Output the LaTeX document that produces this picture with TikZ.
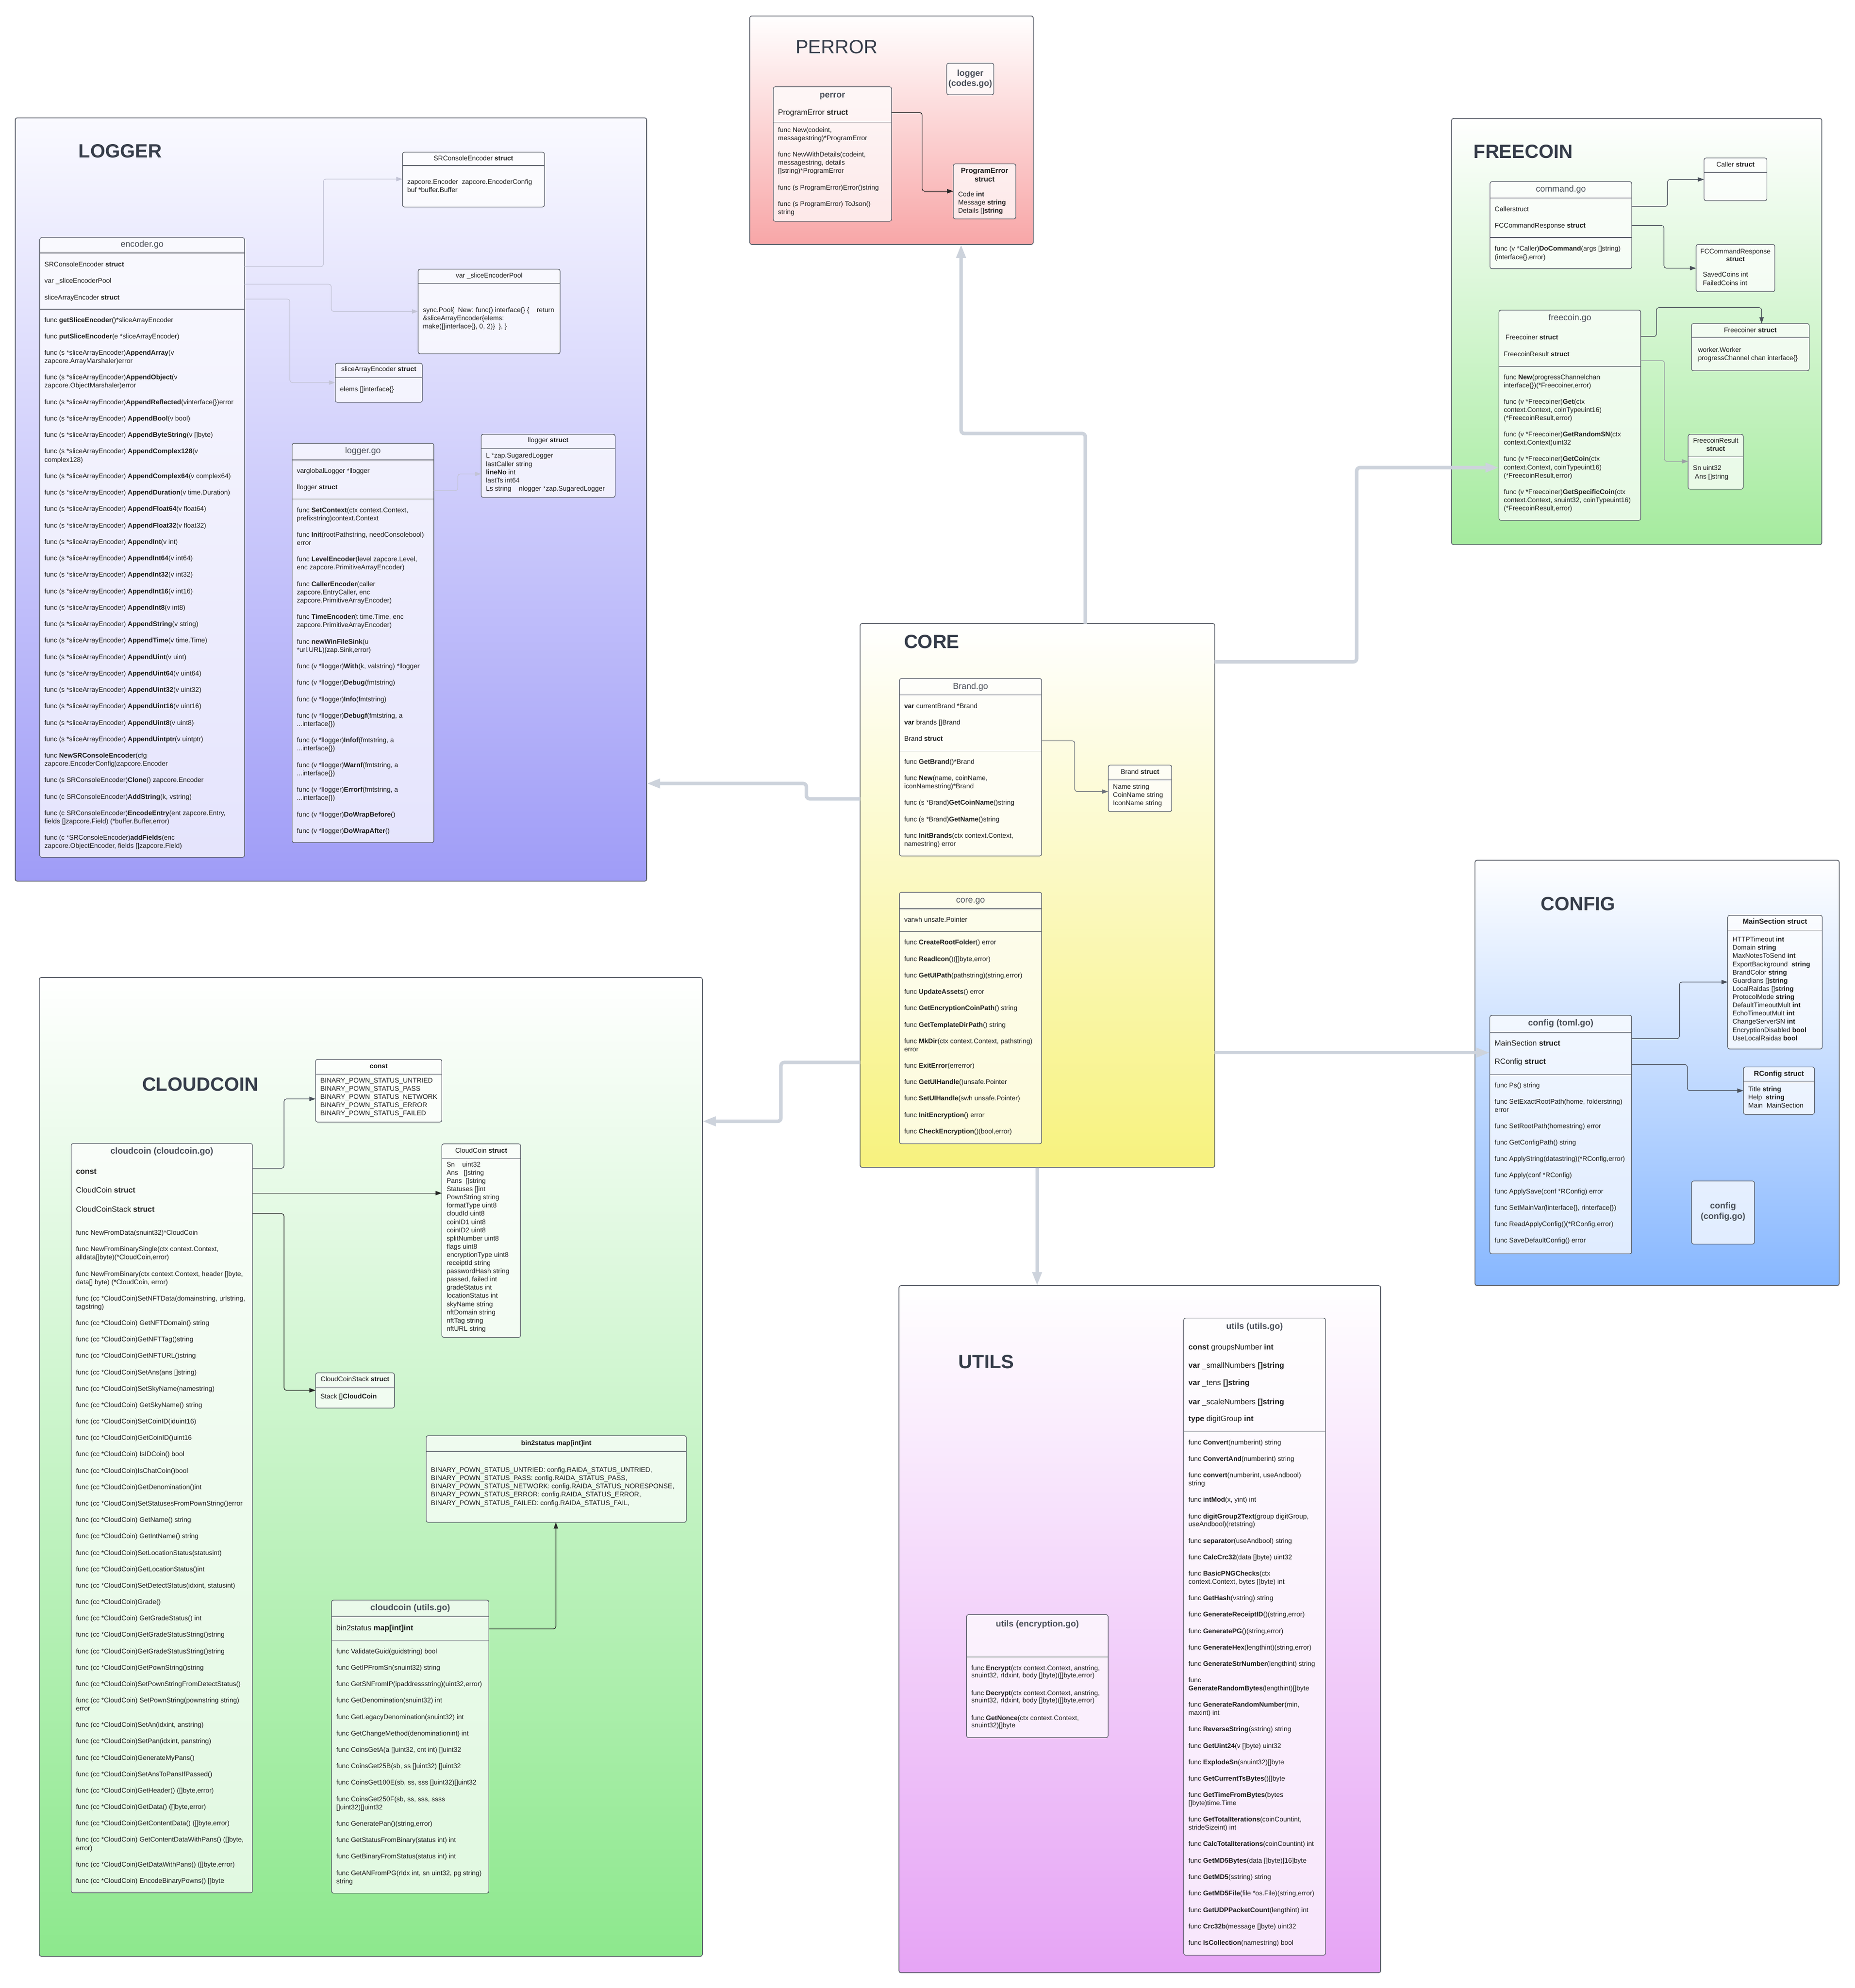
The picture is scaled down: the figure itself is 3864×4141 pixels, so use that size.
\documentclass[tikz,border=0pt]{standalone}
\usepackage{fontspec}
\setmainfont{Liberation Sans}
\usetikzlibrary{arrows.meta}
\definecolor{ink}{HTML}{1F1F1F}
\definecolor{hdr}{HTML}{4B505A}
\definecolor{ttl}{HTML}{363D4A}
\definecolor{bord}{HTML}{5A5F69}
\definecolor{conn}{HTML}{4A505B}
\definecolor{connlt}{HTML}{C3C4D6}
\definecolor{bigc}{HTML}{CDD3DC}
\definecolor{lgT}{HTML}{FAFAFF}
\definecolor{lgB}{HTML}{9F9CF7}
\definecolor{peB}{HTML}{F8A6A7}
\definecolor{fcB}{HTML}{A5EB9E}
\definecolor{coB}{HTML}{F7F27E}
\definecolor{cfB}{HTML}{87B7FF}
\definecolor{ccB}{HTML}{8DE88D}
\definecolor{utB}{HTML}{E6A4F5}
\tikzset{
  pkgframe/.style={draw=bord,line width=1.6pt,rounded corners=4pt,inner sep=0pt,outer sep=0pt},
  ubox/.style={draw=bord,line width=1.3pt,rounded corners=4pt,fill=white,fill opacity=0.72,inner sep=0pt,outer sep=0pt},
  sepl/.style={draw=bord,line width=1.2pt},
  txt/.style={inner sep=0pt,outer sep=0pt,anchor=base west,yshift=-5pt,font=\fontsize{14}{17}\selectfont,text=ink},
  t16/.style={font=\fontsize{16}{19}\selectfont,yshift=-0.8pt},
  hd/.style={inner sep=0pt,anchor=base,yshift=-6.5pt,font=\fontsize{18}{21}\selectfont,text=hdr},
  hdb/.style={hd,font=\fontsize{18}{21}\selectfont\bfseries},
  sttl/.style={inner sep=0pt,anchor=base,yshift=-5pt,font=\fontsize{14}{17}\selectfont,text=ink},
  sttlb/.style={sttl,font=\fontsize{15}{18}\selectfont\bfseries},
  ttlb/.style={inner sep=0pt,anchor=base west,yshift=-14.3pt,font=\fontsize{40}{48}\selectfont\bfseries,text=ttl},
  ttlr/.style={inner sep=0pt,anchor=base west,yshift=-14.3pt,font=\fontsize{40}{48}\selectfont,text=ttl},
  cn/.style={draw=conn,line width=1.3pt,rounded corners=5pt,-{Triangle[length=13pt,width=9pt]}},
  cnl/.style={cn,draw=connlt},
  bigarr/.style={draw=bigc,line width=7.3pt,rounded corners=7pt,-{Triangle[length=28pt,width=18.5pt]}}
}
\newcount\tcnt
\newcommand\tline[4][]{\node[txt,#1] (t\the\tcnt) at (#2,#3) {#4};\global\advance\tcnt by 1\relax}
\newcommand\startlist[4]{\def\curX{#1}\def\curY{#2}\def\stepY{#3}\def\lineY{#4}}
\newcommand\IT[1]{\tline{\curX}{\curY}{#1}\let\lastY\curY\pgfmathsetmacro\curY{\curY+\stepY}}
\newcommand\NL[1]{\pgfmathsetmacro\lastY{\lastY+\lineY}\tline{\curX}{\lastY}{#1}\pgfmathsetmacro\curY{\curY+\lineY}}
\newcommand\boxn[6][ubox]{\node[#1,minimum width={(#5-#3)*1pt},minimum height={(#6-#4)*1pt}] (#2) at ({(#3+#5)/2},{(#4+#6)/2}) {};}
\newcommand\sepline[2]{\draw[sepl] (#1.west |- 0,#2) -- (#1.east |- 0,#2);}
\begin{document}
\begin{tikzpicture}[x=1pt,y=-1pt]
\fill[white] (0,0) rectangle (3864,4141);
\useasboundingbox (0,0) rectangle (3864,4141);
% ---------------- frames
\boxn[pkgframe,top color=lgT,bottom color=lgB]{LOG}{31.7}{245.6}{1347}{1835.5}
\boxn[pkgframe,top color=white,bottom color=peB]{PER}{1561.7}{33.3}{2152.3}{509}
\boxn[pkgframe,top color=white,bottom color=fcB]{FRE}{3023.6}{246.9}{3794.9}{1134.4}
\boxn[pkgframe,top color=white,bottom color=coB]{COR}{1791.6}{1298.8}{2530.4}{2431.6}
\boxn[pkgframe,top color=white,bottom color=cfB]{CFG}{3072.4}{1791.9}{3831.1}{2677.7}
\boxn[pkgframe,top color=white,bottom color=ccB]{CLD}{81.9}{2036}{1463}{4075}
\boxn[pkgframe,top color=white,bottom color=utB]{UTL}{1872.5}{2678}{2876}{4109}
\node[ttlb] (LOGt) at (163.7,314.3) {LOGGER};
\node[ttlr] (PERt) at (1657,97.5) {PERROR};
\node[ttlb] (FREt) at (3069.4,315) {FREECOIN};
\node[ttlb] (CORt) at (1882.8,1336.2) {CORE};
\node[ttlb] (CFGt) at (3209.3,1882) {CONFIG};
\node[ttlb] (CLDt) at (295.8,2258) {CLOUDCOIN};
\node[ttlb] (UTLt) at (1996.6,2836) {UTILS};
% ---------------- LOGGER
\boxn{enc}{82.7}{495}{509.3}{1785.7}
\boxn{srce}{838.4}{317}{1134}{431.2}
\boxn{pool}{871}{560.6}{1166.7}{737}
\boxn{sae}{698.4}{756.6}{879.7}{838}
\boxn{lgo}{608.4}{923.4}{903.6}{1755}
\boxn{llg}{1002.3}{904.7}{1281.4}{1036}
\sepline{enc}{527}\sepline{enc}{644}
\sepline{srce}{345}\sepline{pool}{590.6}\sepline{sae}{786.6}
\sepline{lgo}{958}\sepline{lgo}{1039.7}\sepline{llg}{934.7}
\node[hd] (enct) at (296,508) {encoder.go};
\startlist{92.7}{550}{34.5}{17}
\IT{SRConsoleEncoder \textbf{struct}}
\IT{var \_sliceEncoderPool}
\IT{sliceArrayEncoder \textbf{struct}}
\startlist{92.7}{666}{34.25}{17.1}
\IT{func \textbf{getSliceEncoder}()*sliceArrayEncoder}
\IT{func \textbf{putSliceEncoder}(e *sliceArrayEncoder)}
\IT{func (s *sliceArrayEncoder)\textbf{AppendArray}(v}\NL{zapcore.ArrayMarshaler)error}
\IT{func (s *sliceArrayEncoder)\textbf{AppendObject}(v}\NL{zapcore.ObjectMarshaler)error}
\IT{func (s *sliceArrayEncoder)\textbf{AppendReflected}(vinterface\{\})error}
\IT{func (s *sliceArrayEncoder) \textbf{AppendBool}(v bool)}
\IT{func (s *sliceArrayEncoder) \textbf{AppendByteString}(v []byte)}
\IT{func (s *sliceArrayEncoder) \textbf{AppendComplex128}(v}\NL{complex128)}
\IT{func (s *sliceArrayEncoder) \textbf{AppendComplex64}(v complex64)}
\IT{func (s *sliceArrayEncoder) \textbf{AppendDuration}(v time.Duration)}
\IT{func (s *sliceArrayEncoder) \textbf{AppendFloat64}(v float64)}
\IT{func (s *sliceArrayEncoder) \textbf{AppendFloat32}(v float32)}
\IT{func (s *sliceArrayEncoder) \textbf{AppendInt}(v int)}
\IT{func (s *sliceArrayEncoder) \textbf{AppendInt64}(v int64)}
\IT{func (s *sliceArrayEncoder) \textbf{AppendInt32}(v int32)}
\IT{func (s *sliceArrayEncoder) \textbf{AppendInt16}(v int16)}
\IT{func (s *sliceArrayEncoder) \textbf{AppendInt8}(v int8)}
\IT{func (s *sliceArrayEncoder) \textbf{AppendString}(v string)}
\IT{func (s *sliceArrayEncoder) \textbf{AppendTime}(v time.Time)}
\IT{func (s *sliceArrayEncoder) \textbf{AppendUint}(v uint)}
\IT{func (s *sliceArrayEncoder) \textbf{AppendUint64}(v uint64)}
\IT{func (s *sliceArrayEncoder) \textbf{AppendUint32}(v uint32)}
\IT{func (s *sliceArrayEncoder) \textbf{AppendUint16}(v uint16)}
\IT{func (s *sliceArrayEncoder) \textbf{AppendUint8}(v uint8)}
\IT{func (s *sliceArrayEncoder) \textbf{AppendUintptr}(v uintptr)}
\IT{func \textbf{NewSRConsoleEncoder}(cfg}\NL{zapcore.EncoderConfig)zapcore.Encoder}
\IT{func (s SRConsoleEncoder)\textbf{Clone}() zapcore.Encoder}
\IT{func (c SRConsoleEncoder)\textbf{AddString}(k, vstring)}
\IT{func (c SRConsoleEncoder)\textbf{EncodeEntry}(ent zapcore.Entry,}\NL{fields []zapcore.Field) (*buffer.Buffer,error)}
\IT{func (c *SRConsoleEncoder)\textbf{addFields}(enc}\NL{zapcore.ObjectEncoder, fields []zapcore.Field)}
\node[sttl] (srcet) at (986.2,329) {SRConsoleEncoder \textbf{struct}};
\tline{848.4}{378.7}{zapcore.Encoder\ \ zapcore.EncoderConfig}
\tline{848.4}{395.6}{buf *buffer.Buffer}
\node[sttl] (poolt) at (1018.9,573.7) {var \_sliceEncoderPool};
\startlist{881}{645}{17}{17}
\IT{sync.Pool\{\ \ New: func() interface\{\} \{\ \ \ \ return}
\IT{\&sliceArrayEncoder\{elems:}
\IT{make([]interface\{\}, 0, 2)\}\ \ \}, \}}
\node[sttl] (saet) at (789,768.7) {sliceArrayEncoder \textbf{struct}};
\tline{708.4}{810}{elems []interface\{\}}
\node[hd] (lgot) at (756,938.4) {logger.go};
\tline{618.4}{980.6}{varglobalLogger *llogger}
\tline{618.4}{1014.4}{llogger \textbf{struct}}
\startlist{618.4}{1062}{34.3}{17.1}
\IT{func \textbf{SetContext}(ctx context.Context,}\NL{prefixstring)context.Context}
\IT{func \textbf{Init}(rootPathstring, needConsolebool)}\NL{error}
\IT{func \textbf{LevelEncoder}(level zapcore.Level,}\NL{enc zapcore.PrimitiveArrayEncoder)}
\IT{func \textbf{CallerEncoder}(caller}\NL{zapcore.EntryCaller, enc}\NL{zapcore.PrimitiveArrayEncoder)}
\IT{func \textbf{TimeEncoder}(t time.Time, enc}\NL{zapcore.PrimitiveArrayEncoder)}
\IT{func \textbf{newWinFileSink}(u}\NL{*url.URL)(zap.Sink,error)}
\IT{func (v *llogger)\textbf{With}(k, valstring) *llogger}
\IT{func (v *llogger)\textbf{Debug}(fmtstring)}
\IT{func (v *llogger)\textbf{Info}(fmtstring)}
\IT{func (v *llogger)\textbf{Debugf}(fmtstring, a}\NL{...interface\{\})}
\IT{func (v *llogger)\textbf{Infof}(fmtstring, a}\NL{...interface\{\})}
\IT{func (v *llogger)\textbf{Warnf}(fmtstring, a}\NL{...interface\{\})}
\IT{func (v *llogger)\textbf{Errorf}(fmtstring, a}\NL{...interface\{\})}
\IT{func (v *llogger)\textbf{DoWrapBefore}()}
\IT{func (v *llogger)\textbf{DoWrapAfter}()}
\node[sttl] (llgt) at (1141.9,916.9) {llogger \textbf{struct}};
\startlist{1012.3}{948.7}{17.3}{17}
\IT{L *zap.SugaredLogger}
\IT{lastCaller string}
\IT{\textbf{lineNo} int}
\IT{lastTs int64}
\IT{Ls string\ \ \ \ nlogger *zap.SugaredLogger}
\draw[cnl] (enc.east |- 0,555.5) -- (673.6,555.5) -- (673.6,373) -- (srce.west |- 0,373);
\draw[cnl] (enc.east |- 0,592) -- (690,592) -- (690,648.7) -- (pool.west |- 0,648.7);
\draw[cnl] (enc.east |- 0,623) -- (603.8,623) -- (603.8,796.9) -- (sae.west |- 0,796.9);
\draw[cnl] (lgo.east |- 0,1021.9) -- (953.6,1021.9) -- (953.6,987.2) -- (llg.west |- 0,987.2);
% ---------------- PERROR
\boxn{codes}{1972}{131.7}{2070}{197.3}
\boxn{perr}{1610.7}{180.7}{1857}{461}
\boxn{pes}{1985.8}{341.3}{2116}{456}
\sepline{perr}{254.3}
\node[hdb] (codes1) at (2021,151.7) {logger};
\node[hdb] (codes2) at (2021,173.3) {(codes.go)};
\node[hdb] (perrt) at (1733.9,196.7) {perror};
\tline[t16]{1620.7}{233.3}{ProgramError \textbf{struct}}
\startlist{1620.7}{270.7}{34.2}{17}
\IT{func New(codeint,}\NL{messagestring)*ProgramError}
\IT{func NewWithDetails(codeint,}\NL{messagestring, details}\NL{[]string)*ProgramError}
\IT{func (s ProgramError)Error()string}
\IT{func (s ProgramError) ToJson()}\NL{string}
\node[sttlb] (pest1) at (2050.9,355.3) {ProgramError};
\node[sttlb] (pest2) at (2050.9,373) {struct};
\startlist{1995.8}{404.3}{17}{17}
\IT{Code \textbf{int}}
\IT{Message \textbf{string}}
\IT{Details []\textbf{string}}
\draw[cn,draw=black!85] (perr.east |- 0,234.3) -- (1920.8,234.3) -- (1920.8,398.3) -- (pes.west |- 0,398.3);
% ---------------- FREECOIN
\boxn{caller}{3549.5}{329}{3680.5}{418}
\boxn{cmd}{3103.7}{378.3}{3398.9}{559.8}
\boxn{fcr}{3533}{509.2}{3697}{607.4}
\boxn{fgo}{3122.3}{645.9}{3417.6}{1083.9}
\boxn{fcer}{3523.3}{674}{3768.7}{772.2}
\boxn{fres}{3516.3}{904.8}{3631.2}{1019}
\sepline{caller}{359.4}\sepline{cmd}{412.8}\sepline{cmd}{494.9}
\sepline{fgo}{763.5}\sepline{fcer}{703.8}\sepline{fres}{951.8}
\node[sttl] (callert) at (3615,342.2) {Caller \textbf{struct}};
\node[hd] (cmdt) at (3251.3,393.3) {command.go};
\tline{3113.7}{435.2}{Callerstruct}
\tline{3113.7}{469.6}{FCCommandResponse \textbf{struct}}
\tline{3113.7}{517.8}{func (v *Caller)\textbf{DoCommand}(args []string)}
\tline{3113.7}{535}{(interface\{\},error)}
\node[sttl] (fcrt1) at (3615,523) {FCCommandResponse};
\node[sttl] (fcrt2) at (3615,539.7) {\textbf{struct}};
\tline{3547}{571.8}{SavedCoins int}
\tline{3547}{589}{FailedCoins int}
\node[hd] (fgot) at (3270,661.4) {freecoin.go};
\tline{3136}{702.7}{Freecoiner \textbf{struct}}
\tline{3132.4}{737.1}{FreecoinResult \textbf{struct}}
\startlist{3132.3}{785.3}{33.9}{17.2}
\IT{func \textbf{New}(progressChannelchan}\NL{interface\{\})(*Freecoiner,error)}
\IT{func (v *Freecoiner)\textbf{Get}(ctx}\NL{context.Context, coinTypeuint16)}\NL{(*FreecoinResult,error)}
\IT{func (v *Freecoiner)\textbf{GetRandomSN}(ctx}\NL{context.Context)uint32}
\IT{func (v *Freecoiner)\textbf{GetCoin}(ctx}\NL{context.Context, coinTypeuint16)}\NL{(*FreecoinResult,error)}
\IT{func (v *Freecoiner)\textbf{GetSpecificCoin}(ctx}\NL{context.Context, snuint32, coinTypeuint16)}\NL{(*FreecoinResult,error)}
\node[sttl] (fcert) at (3646,687.2) {Freecoiner \textbf{struct}};
\tline{3537}{728}{worker.Worker}
\tline{3537}{745.2}{progressChannel chan interface\{\}}
\node[sttl] (frest1) at (3573.8,917.4) {FreecoinResult};
\node[sttl] (frest2) at (3573.8,934.6) {\textbf{struct}};
\tline{3526.4}{974.8}{Sn uint32}
\tline{3530.4}{992.6}{Ans []string}
\draw[cn] (cmd.east |- 0,430) -- (3473.5,430) -- (3473.5,373.8) -- (caller.west |- 0,373.8);
\draw[cn] (cmd.east |- 0,469.6) -- (3466,469.6) -- (3466,558.6) -- (fcr.west |- 0,558.6);
\draw[cn] (fgo.east |- 0,701) -- (3450.3,701) -- (3450.3,640.7) -- (3669.4,640.7) -- (fcer.north -| 3669.4,0);
\draw[cn,draw=conn!55] (fgo.east |- 0,751) -- (3467,751) -- (3467,961) -- (fres.west |- 0,961);
% ---------------- CORE
\boxn{bgo}{1873.6}{1413.3}{2169.7}{1783}
\boxn{bst}{2308.4}{1593.7}{2440.7}{1690.6}
\boxn{cgo}{1873.6}{1858.6}{2169.7}{2382.4}
\sepline{bgo}{1447.7}\sepline{bgo}{1564.4}\sepline{bst}{1624.6}
\sepline{cgo}{1893}\sepline{cgo}{1940.8}
\node[hd] (bgot) at (2021.7,1428.7) {Brand.go};
\startlist{1883.6}{1470.5}{34.1}{17}
\IT{\textbf{var} currentBrand *Brand}
\IT{\textbf{var} brands []Brand}
\IT{Brand \textbf{struct}}
\startlist{1883.6}{1586.4}{34.3}{16.9}
\IT{func \textbf{GetBrand}()*Brand}
\IT{func \textbf{New}(name, coinName,}\NL{iconNamestring)*Brand}
\IT{func (s *Brand)\textbf{GetCoinName}()string}
\IT{func (s *Brand)\textbf{GetName}()string}
\IT{func \textbf{InitBrands}(ctx context.Context,}\NL{namestring) error}
\node[sttl] (bstt) at (2374.6,1607) {Brand \textbf{struct}};
\startlist{2318.4}{1638.5}{17.2}{17}
\IT{Name string}
\IT{CoinName string}
\IT{IconName string}
\node[hd] (cgot) at (2021.7,1874) {core.go};
\tline{1883.6}{1915}{varwh unsafe.Pointer}
\startlist{1883.6}{1962.8}{34.25}{16.8}
\IT{func \textbf{CreateRootFolder}() error}
\IT{func \textbf{ReadIcon}()([]byte,error)}
\IT{func \textbf{GetUIPath}(pathstring)(string,error)}
\IT{func \textbf{UpdateAssets}() error}
\IT{func \textbf{GetEncryptionCoinPath}() string}
\IT{func \textbf{GetTemplateDirPath}() string}
\IT{func \textbf{MkDir}(ctx context.Context, pathstring)}\NL{error}
\IT{func \textbf{ExitError}(errerror)}
\IT{func \textbf{GetUIHandle}()unsafe.Pointer}
\IT{func \textbf{SetUIHandle}(swh unsafe.Pointer)}
\IT{func \textbf{InitEncryption}() error}
\IT{func \textbf{CheckEncryption}()(bool,error)}
\draw[cn,draw=conn!80] (bgo.east |- 0,1543) -- (2238.6,1543) -- (2238.6,1648.8) -- (bst.west |- 0,1648.8);
% ---------------- CONFIG
\boxn{msec}{3598.8}{1906.7}{3795.8}{2185.1}
\boxn{rcf}{3631.6}{2222.4}{3779.4}{2321.2}
\boxn{toml}{3103.3}{2115}{3398.8}{2611.7}
\boxn{cfgo}{3523.7}{2460}{3654.5}{2591.5}
\sepline{msec}{1937.7}\sepline{rcf}{2253.4}\sepline{toml}{2150.1}\sepline{toml}{2238.5}
\node[sttlb] (msect) at (3697.3,1919.9) {MainSection struct};
\startlist{3608.8}{1956.6}{17.13}{17}
\IT{HTTPTimeout \textbf{int}}
\IT{Domain \textbf{string}}
\IT{MaxNotesToSend \textbf{int}}
\IT{ExportBackground\ \ \textbf{string}}
\IT{BrandColor \textbf{string}}
\IT{Guardians []\textbf{string}}
\IT{LocalRaidas []\textbf{string}}
\IT{ProtocolMode \textbf{string}}
\IT{DefaultTimeoutMult \textbf{int}}
\IT{EchoTimeoutMult \textbf{int}}
\IT{ChangeServerSN \textbf{int}}
\IT{EncryptionDisabled \textbf{bool}}
\IT{UseLocalRaidas \textbf{bool}}
\node[sttlb] (rcft) at (3705.5,2236.2) {RConfig struct};
\startlist{3641.6}{2268.4}{16.9}{17}
\IT{Title \textbf{string}}
\IT{Help\ \ \textbf{string}}
\IT{Main\ \ MainSection}
\node[hdb] (tomlt) at (3251,2130) {config (toml.go)};
\tline[t16]{3113.3}{2172.5}{MainSection \textbf{struct}}
\tline[t16]{3113.3}{2211}{RConfig \textbf{struct}}
\startlist{3113.3}{2260.3}{34.05}{17.2}
\IT{func Ps() string}
\IT{func SetExactRootPath(home, folderstring)}\NL{error}
\IT{func SetRootPath(homestring) error}
\IT{func GetConfigPath() string}
\IT{func ApplyString(datastring)(*RConfig,error)}
\IT{func Apply(conf *RConfig)}
\IT{func ApplySave(conf *RConfig) error}
\IT{func SetMainVar(linterface\{\}, rinterface\{\})}
\IT{func ReadApplyConfig()(*RConfig,error)}
\IT{func SaveDefaultConfig() error}
\node[hdb] (cfgo1) at (3589.1,2511.2) {config};
\node[hdb] (cfgo2) at (3589.1,2533) {(config.go)};
\draw[cn] (toml.east |- 0,2163.3) -- (3498.3,2163.3) -- (3498.3,2045.6) -- (msec.west |- 0,2045.6);
\draw[cn] (toml.east |- 0,2217.3) -- (3514.7,2217.3) -- (3514.7,2271.8) -- (rcf.west |- 0,2271.8);
% ---------------- CLOUDCOIN
\boxn{ccgo}{148.3}{2382}{526}{3942.6}
\boxn{cst}{657.4}{2206.6}{920.3}{2337.3}
\boxn{ccs}{920.3}{2382.6}{1084.5}{2785.7}
\boxn{stk}{657.4}{2859.6}{821.6}{2933}
\boxn{b2s}{887.7}{2990.4}{1429.6}{3170.9}
\boxn{ccu}{690.7}{3332.9}{1018.3}{3943.5}
\sepline{cst}{2237.8}\sepline{ccs}{2413.2}\sepline{stk}{2889.6}\sepline{b2s}{3023.5}
\sepline{ccu}{3367.4}\sepline{ccu}{3416.8}
\node[hdb] (ccgot) at (337.2,2397.2) {cloudcoin (cloudcoin.go)};
\tline[t16]{158.3}{2439.6}{\textbf{const}}
\tline[t16]{158.3}{2478.9}{CloudCoin \textbf{struct}}
\tline[t16]{158.3}{2518.2}{CloudCoinStack \textbf{struct}}
\startlist{158.3}{2567.6}{34.17}{17.1}
\IT{func NewFromData(snuint32)*CloudCoin}
\IT{func NewFromBinarySingle(ctx context.Context,}\NL{alldata[]byte)(*CloudCoin,error)}
\IT{func NewFromBinary(ctx context.Context, header []byte,}\NL{data[] byte) (*CloudCoin, error)}
\IT{func (cc *CloudCoin)SetNFTData(domainstring, urlstring,}\NL{tagstring)}
\IT{func (cc *CloudCoin) GetNFTDomain() string}
\IT{func (cc *CloudCoin)GetNFTTag()string}
\IT{func (cc *CloudCoin)GetNFTURL()string}
\IT{func (cc *CloudCoin)SetAns(ans []string)}
\IT{func (cc *CloudCoin)SetSkyName(namestring)}
\IT{func (cc *CloudCoin) GetSkyName() string}
\IT{func (cc *CloudCoin)SetCoinID(iduint16)}
\IT{func (cc *CloudCoin)GetCoinID()uint16}
\IT{func (cc *CloudCoin) IsIDCoin() bool}
\IT{func (cc *CloudCoin)IsChatCoin()bool}
\IT{func (cc *CloudCoin)GetDenomination()int}
\IT{func (cc *CloudCoin)SetStatusesFromPownString()error}
\IT{func (cc *CloudCoin) GetName() string}
\IT{func (cc *CloudCoin) GetIntName() string}
\IT{func (cc *CloudCoin)SetLocationStatus(statusint)}
\IT{func (cc *CloudCoin)GetLocationStatus()int}
\IT{func (cc *CloudCoin)SetDetectStatus(idxint, statusint)}
\IT{func (cc *CloudCoin)Grade()}
\IT{func (cc *CloudCoin) GetGradeStatus() int}
\IT{func (cc *CloudCoin)GetGradeStatusString()string}
\IT{func (cc *CloudCoin)GetGradeStatusString()string}
\IT{func (cc *CloudCoin)GetPownString()string}
\IT{func (cc *CloudCoin)SetPownStringFromDetectStatus()}
\IT{func (cc *CloudCoin) SetPownString(pownstring string)}\NL{error}
\IT{func (cc *CloudCoin)SetAn(idxint, anstring)}
\IT{func (cc *CloudCoin)SetPan(idxint, panstring)}
\IT{func (cc *CloudCoin)GenerateMyPans()}
\IT{func (cc *CloudCoin)SetAnsToPansIfPassed()}
\IT{func (cc *CloudCoin)GetHeader() ([]byte,error)}
\IT{func (cc *CloudCoin)GetData() ([]byte,error)}
\IT{func (cc *CloudCoin)GetContentData() ([]byte,error)}
\IT{func (cc *CloudCoin) GetContentDataWithPans() ([]byte,}\NL{error)}
\IT{func (cc *CloudCoin)GetDataWithPans() ([]byte,error)}
\IT{func (cc *CloudCoin) EncodeBinaryPowns() []byte}
\node[sttl] (cstt) at (788.9,2220) {\textbf{const}};
\startlist{667.4}{2250.6}{17.05}{17}
\IT{BINARY\_POWN\_STATUS\_UNTRIED}
\IT{BINARY\_POWN\_STATUS\_PASS}
\IT{BINARY\_POWN\_STATUS\_NETWORK}
\IT{BINARY\_POWN\_STATUS\_ERROR}
\IT{BINARY\_POWN\_STATUS\_FAILED}
\node[sttl] (ccst) at (1002.4,2396) {CloudCoin \textbf{struct}};
\startlist{930.3}{2425.3}{17.1}{17}
\IT{Sn\ \ \ \ uint32}
\IT{Ans\ \ \ []string}
\IT{Pans\ \ []string}
\IT{Statuses []int}
\IT{PownString string}
\IT{formatType uint8}
\IT{cloudId uint8}
\IT{coinID1 uint8}
\IT{coinID2 uint8}
\IT{splitNumber uint8}
\IT{flags uint8}
\IT{encryptionType uint8}
\IT{receiptId string}
\IT{passwordHash string}
\IT{passed, failed int}
\IT{gradeStatus int}
\IT{locationStatus int}
\IT{skyName string}
\IT{nftDomain string}
\IT{nftTag string}
\IT{nftURL string}
\node[sttl] (stkt) at (739.5,2872.4) {CloudCoinStack \textbf{struct}};
\tline{667.4}{2908.7}{Stack []\textbf{CloudCoin}}
\node[sttl] (b2st) at (1158.7,3005) {\textbf{bin2status map[int]int}};
\startlist{897.7}{3061.2}{17.2}{17}
\IT{BINARY\_POWN\_STATUS\_UNTRIED: config.RAIDA\_STATUS\_UNTRIED,}
\IT{BINARY\_POWN\_STATUS\_PASS: config.RAIDA\_STATUS\_PASS,}
\IT{BINARY\_POWN\_STATUS\_NETWORK: config.RAIDA\_STATUS\_NORESPONSE,}
\IT{BINARY\_POWN\_STATUS\_ERROR: config.RAIDA\_STATUS\_ERROR,}
\IT{BINARY\_POWN\_STATUS\_FAILED: config.RAIDA\_STATUS\_FAIL,}
\node[hdb] (ccut) at (854.5,3348.1) {cloudcoin (utils.go)};
\tline[t16]{700.7}{3390.3}{bin2status \textbf{map[int]int}}
\startlist{700.7}{3439.3}{34.2}{17.2}
\IT{func ValidateGuid(guidstring) bool}
\IT{func GetIPFromSn(snuint32) string}
\IT{func GetSNFromIP(ipaddressstring)(uint32,error)}
\IT{func GetDenomination(snuint32) int}
\IT{func GetLegacyDenomination(snuint32) int}
\IT{func GetChangeMethod(denominationint) int}
\IT{func CoinsGetA(a []uint32, cnt int) []uint32}
\IT{func CoinsGet25B(sb, ss []uint32) []uint32}
\IT{func CoinsGet100E(sb, ss, sss []uint32)[]uint32}
\IT{func CoinsGet250F(sb, ss, sss, ssss}\NL{[]uint32)[]uint32}
\IT{func GeneratePan()(string,error)}
\IT{func GetStatusFromBinary(status int) int}
\IT{func GetBinaryFromStatus(status int) int}
\IT{func GetANFromPG(rIdx int, sn uint32, pg string)}\NL{string}
\draw[cn] (ccgo.east |- 0,2433.5) -- (591.6,2433.5) -- (591.6,2289) -- (cst.west |- 0,2289);
\draw[cn,draw=black!85] (ccgo.east |- 0,2485.3) -- (ccs.west |- 0,2485.3);
\draw[cn,draw=black!85] (ccgo.east |- 0,2528) -- (591.6,2528) -- (591.6,2896) -- (stk.west |- 0,2896);
\draw[cn,draw=black!85] (ccu.east |- 0,3393) -- (1157.9,3393) -- (b2s.south -| 1157.9,0);
% ---------------- UTILS
\boxn{enc2}{2013.3}{3363.3}{2308.3}{3619.3}
\boxn{ugo}{2465.7}{2745.5}{2761}{4072.7}
\sepline{enc2}{3451.7}\sepline{ugo}{2982.4}
\node[hdb] (enc2t) at (2160.8,3382.3) {utils (encryption.go)};
\startlist{2023.3}{3474}{37.2}{15}
\IT{func \textbf{Encrypt}(ctx context.Context, anstring,}\NL{snuint32, rIdxint, body []byte)([]byte,error)}
\IT{func \textbf{Decrypt}(ctx context.Context, anstring,}\NL{snuint32, rIdxint, body []byte)([]byte,error)}
\IT{func \textbf{GetNonce}(ctx context.Context,}\NL{snuint32)[]byte}
\node[hdb] (ugot) at (2613.4,2762.2) {utils (utils.go)};
\tline[t16]{2475.7}{2805.2}{\textbf{const} groupsNumber \textbf{int}}
\tline[t16]{2475.7}{2843.8}{\textbf{var} \_smallNumbers \textbf{[]string}}
\tline[t16]{2475.7}{2879.7}{\textbf{var} \_tens \textbf{[]string}}
\tline[t16]{2475.7}{2919.2}{\textbf{var} \_scaleNumbers \textbf{[]string}}
\tline[t16]{2475.7}{2954.3}{\textbf{type} digitGroup \textbf{int}}
\startlist{2475.7}{3004.3}{34.27}{16.7}
\IT{func \textbf{Convert}(numberint) string}
\IT{func \textbf{ConvertAnd}(numberint) string}
\IT{func \textbf{convert}(numberint, useAndbool)}\NL{string}
\IT{func \textbf{intMod}(x, yint) int}
\IT{func \textbf{digitGroup2Text}(group digitGroup,}\NL{useAndbool)(retstring)}
\IT{func \textbf{separator}(useAndbool) string}
\IT{func \textbf{CalcCrc32}(data []byte) uint32}
\IT{func \textbf{BasicPNGChecks}(ctx}\NL{context.Context, bytes []byte) int}
\IT{func \textbf{GetHash}(vstring) string}
\IT{func \textbf{GenerateReceiptID}()(string,error)}
\IT{func \textbf{GeneratePG}()(string,error)}
\IT{func \textbf{GenerateHex}(lengthint)(string,error)}
\IT{func \textbf{GenerateStrNumber}(lengthint) string}
\IT{func}\NL{\textbf{GenerateRandomBytes}(lengthint)[]byte}
\IT{func \textbf{GenerateRandomNumber}(min,}\NL{maxint) int}
\IT{func \textbf{ReverseString}(sstring) string}
\IT{func \textbf{GetUint24}(v []byte) uint32}
\IT{func \textbf{ExplodeSn}(snuint32)[]byte}
\IT{func \textbf{GetCurrentTsBytes}()[]byte}
\IT{func \textbf{GetTimeFromBytes}(bytes}\NL{[]byte)time.Time}
\IT{func \textbf{GetTotalIterations}(coinCountint,}\NL{strideSizeint) int}
\IT{func \textbf{CalcTotalIterations}(coinCountint) int}
\IT{func \textbf{GetMD5Bytes}(data []byte)[16]byte}
\IT{func \textbf{GetMD5}(sstring) string}
\IT{func \textbf{GetMD5File}(file *os.File)(string,error)}
\IT{func \textbf{GetUDPPacketCount}(lengthint) int}
\IT{func \textbf{Crc32b}(message []byte) uint32}
\IT{func \textbf{IsCollection}(namestring) bool}
% ---------------- package arrows
\draw[bigarr] (COR.north -| 2260.7,0) -- (2260.7,903) -- (2001.9,903) -- (PER.south -| 2001.9,0);
\draw[bigarr] (COR.east |- 0,1378.6) -- (2826,1378.6) -- (2826,974) -- (fgo.west |- 0,974);
\draw[bigarr] (COR.west |- 0,1664) -- (1679.7,1664) -- (1679.7,1632) -- (LOG.east |- 0,1632);
\draw[bigarr] (COR.east |- 0,2192.6) -- (toml.west |- 0,2192.6);
\draw[bigarr] (COR.west |- 0,2213) -- (1626.7,2213) -- (1626.7,2335.7) -- (CLD.east |- 0,2335.7);
\draw[bigarr] (COR.south -| 2160.3,0) -- (UTL.north -| 2160.3,0);
\end{tikzpicture}
\end{document}
